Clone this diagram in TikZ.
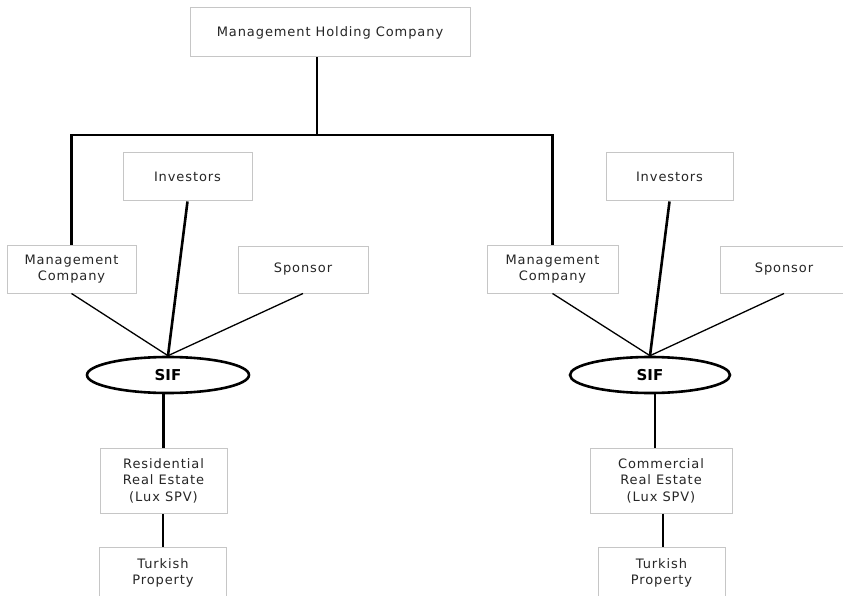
\documentclass[tikz,border=0pt]{standalone}
\usepackage{fontspec}
\usetikzlibrary{shapes.geometric}
\newfontfamily\boxfont[LetterSpace=7]{DejaVu Sans}
\begin{document}
\begin{tikzpicture}[x=1pt,y=-1pt,
		entity/.style={draw=gray!45,line width=1pt,text=black!85,align=center,inner sep=0pt,
			font=\boxfont\fontsize{13}{16.5}\selectfont},
		fund/.style={ellipse,draw,line width=2.6pt,minimum width=160,minimum height=36,inner sep=0pt,
			font=\fontspec{DejaVu Sans Bold}\fontsize{15}{18}\selectfont},
		trunk/.style={line width=2.6pt},
		spoke/.style={line width=1.3pt}]
			\clip (0,0) rectangle (843,596);
			\useasboundingbox (0,0) rectangle (843,596);
			\fill[white] (0,0) rectangle (843,596);
			
			\node[entity,minimum width=280,minimum height=49] (holding) at (330,32.5) {Management Holding Company};
			% left fund
			\node[entity,minimum width=129,minimum height=48] (mcL) at (71.5,269) {Management\\Company};
			\node[entity,minimum width=129,minimum height=48] (invL) at (187.5,177) {Investors};
			\node[entity,minimum width=130,minimum height=47] (spL) at (303,269.5) {Sponsor};
			\node[fund,minimum width=162] (sifL) at (168,375) {SIF};
			\node[entity,minimum width=127,minimum height=65] (resL) at (163.5,480.5) {Residential\\Real Estate\\(Lux SPV)};
			\node[entity,minimum width=127,minimum height=52] (turL) at (163,573) {Turkish\\Property};
			% right fund
			\node[entity,minimum width=131,minimum height=48] (mcR) at (552.5,269) {Management\\Company};
			\node[entity,minimum width=127,minimum height=48] (invR) at (669.5,177) {Investors};
			\node[entity,minimum width=128,minimum height=47] (spR) at (784,269.5) {Sponsor};
			\node[fund] (sifR) at (650,375) {SIF};
			\node[entity,minimum width=142,minimum height=65] (comR) at (661,480.5) {Commercial\\Real Estate\\(Lux SPV)};
			\node[entity,minimum width=127,minimum height=52] (turR) at (661.5,573) {Turkish\\Property};
			
			\coordinate (junction) at (317,135);
			\draw[trunk] (holding.south -| junction) -- (junction);
			\draw[trunk] (mcL.north) -- (mcL.north |- junction) -- (mcR.north |- junction) -- (mcR.north);
			
			\foreach \s in {L,R}{
				\draw[spoke] (mc\s.south) -- (sif\s.north);
				\draw[spoke] (sp\s.south) -- (sif\s.north);
				\draw[trunk] (inv\s.south) -- (sif\s.north);}
			\draw[trunk] (resL.north) -- (resL.north |- sifL.south);
			\draw[trunk] (turL.north) -- (turL.north |- resL.south);
			\draw[trunk] ([xshift=-6]comR.north) -- ([xshift=-6]comR.north |- sifR.south);
			\draw[trunk] ([xshift=2]comR.south) -- ([xshift=2]comR.south |- turR.north);
			
		\end{tikzpicture}
\end{document}
